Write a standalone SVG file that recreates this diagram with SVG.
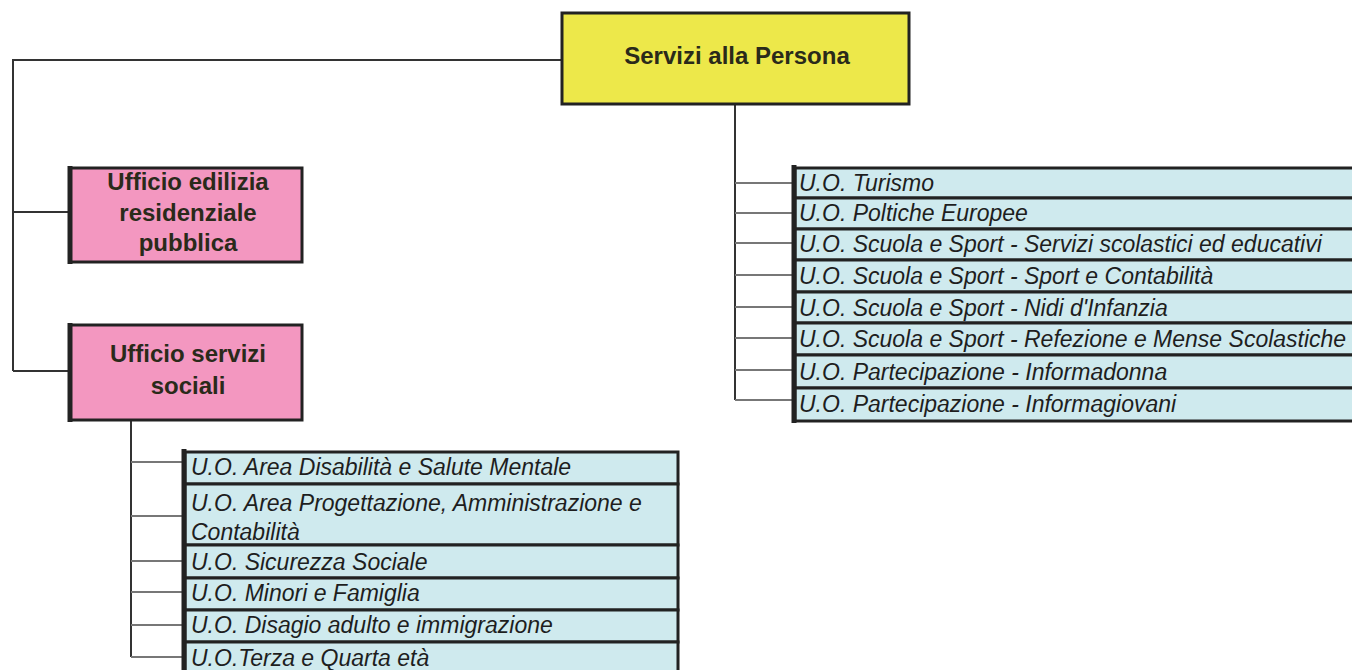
<svg xmlns="http://www.w3.org/2000/svg" width="1352" height="670" viewBox="0 0 1352 670">
<style>
.main{fill:#ede84a;stroke:#222;stroke-width:3}
.pink{fill:#f397c0;stroke:#222;stroke-width:3}
.row{fill:#cfeaee;stroke:#222;stroke-width:3}
.edge{stroke:#222;stroke-width:5}
.t1{font-family:"Liberation Sans",Arial,sans-serif;font-weight:bold;font-size:24px;fill:#2a2a1a;text-anchor:middle}
.t2{font-family:"Liberation Sans",Arial,sans-serif;font-style:italic;font-size:23px;fill:#1e1e1e}
.c{fill:none;stroke:#333;stroke-width:2}
.cg{fill:none;stroke:#777;stroke-width:2}
</style>
<rect width="1352" height="670" fill="#fff"/>
<g id="connectors">
<path class="c" d="M562 60H13V371"/>
<path class="c" d="M13 212H69M13 371H69"/>
<path class="c" d="M735 104V400"/>
<path class="cg" d="M735 183H793M735 213H793M735 243H793M735 275H793M735 307H793M735 338H793M735 370H793M735 400H793"/>
<path class="c" d="M131 420V657"/>
<path class="cg" d="M131 462H183M131 516H183M131 561H183M131 592H183M131 625H183M131 657H183"/>
</g>
<g id="node-servizi">
<rect class="main" x="562" y="13" width="347" height="91"/>
<text class="t1" x="737" y="64">Servizi alla Persona</text>
</g>
<g id="node-edilizia">
<rect class="pink" x="70" y="168" width="232" height="94"/>
<line class="edge" x1="70" y1="166" x2="70" y2="264"/>
<text class="t1" x="188" y="190">Ufficio edilizia</text>
<text class="t1" x="188" y="221">residenziale</text>
<text class="t1" x="188" y="251">pubblica</text>
</g>
<g id="node-sociali">
<rect class="pink" x="70" y="325" width="232" height="95"/>
<line class="edge" x1="70" y1="323" x2="70" y2="422"/>
<text class="t1" x="188" y="362">Ufficio servizi</text>
<text class="t1" x="188" y="394">sociali</text>
</g>
<g id="node-uo-right">
<rect class="row" x="795" y="168" width="570" height="30"/>
<text class="t2" x="799" y="191">U.O. Turismo</text>
<rect class="row" x="795" y="198" width="570" height="31"/>
<text class="t2" x="799" y="221">U.O. Poltiche Europee</text>
<rect class="row" x="795" y="229" width="570" height="31"/>
<text class="t2" x="799" y="252">U.O. Scuola e Sport - Servizi scolastici ed educativi</text>
<rect class="row" x="795" y="260" width="570" height="32"/>
<text class="t2" x="799" y="284">U.O. Scuola e Sport - Sport e Contabilità</text>
<rect class="row" x="795" y="292" width="570" height="31"/>
<text class="t2" x="799" y="316">U.O. Scuola e Sport - Nidi d'Infanzia</text>
<rect class="row" x="795" y="323" width="570" height="32"/>
<text class="t2" x="799" y="347">U.O. Scuola e Sport - Refezione e Mense Scolastiche</text>
<rect class="row" x="795" y="355" width="570" height="33"/>
<text class="t2" x="799" y="380">U.O. Partecipazione - Informadonna</text>
<rect class="row" x="795" y="388" width="570" height="33"/>
<text class="t2" x="799" y="412">U.O. Partecipazione - Informagiovani</text>
<line class="edge" x1="794" y1="165" x2="794" y2="423"/>
</g>
<g id="node-uo-left">
<rect class="row" x="185" y="452" width="493" height="32"/>
<text class="t2" x="191" y="475">U.O. Area Disabilità e Salute Mentale</text>
<rect class="row" x="185" y="484" width="493" height="61"/>
<text class="t2" x="191" y="511">U.O. Area Progettazione, Amministrazione e</text>
<text class="t2" x="191" y="540">Contabilità</text>
<rect class="row" x="185" y="545" width="493" height="33"/>
<text class="t2" x="191" y="570">U.O. Sicurezza Sociale</text>
<rect class="row" x="185" y="578" width="493" height="32"/>
<text class="t2" x="191" y="601">U.O. Minori e Famiglia</text>
<rect class="row" x="185" y="610" width="493" height="32"/>
<text class="t2" x="191" y="633">U.O. Disagio adulto e immigrazione</text>
<rect class="row" x="185" y="642" width="493" height="40"/>
<text class="t2" x="191" y="666">U.O.Terza e Quarta età</text>
<line class="edge" x1="184" y1="449" x2="184" y2="670"/>
</g>
</svg>
